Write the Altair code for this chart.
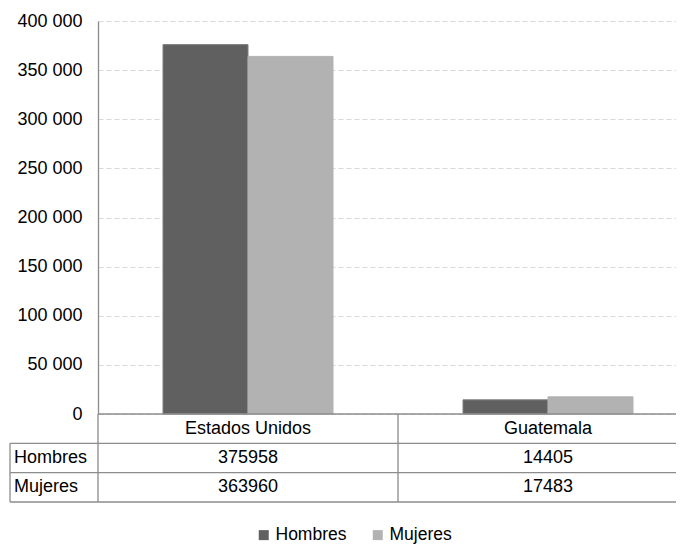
import altair as alt
import pandas as pd

# ---- data ----
countries = ["Estados Unidos", "Guatemala"]
genders = ["Hombres", "Mujeres"]
hombres = [375958, 14405]
mujeres = [363960, 17483]
y_ticks = [0, 50000, 100000, 150000, 200000, 250000, 300000, 350000, 400000]
colors = ["#606060", "#b2b2b2"]
edge_colors = ["#7f7f7f", "#b2b2b2"]
gender_rows = [1.5, 2.5]   # table row centres
header_row = 0.5
row_lines = [1, 2, 3]

# ---- layout ----
W = 578
H = 481
BAR_H = 393
FONT = "Liberation Sans"
LINE = "#8c8c8c"

rows = []
for i, c in enumerate(countries):
    rows.append({"country": c, "gender": genders[0], "value": hombres[i], "row": gender_rows[0]})
    rows.append({"country": c, "gender": genders[1], "value": mujeres[i], "row": gender_rows[1]})
df = pd.DataFrame(rows)
df_head = pd.DataFrame({"country": countries, "row": [header_row] * len(countries)})
df_glab = pd.DataFrame({"gender": genders, "row": gender_rows})
df_hl = pd.DataFrame({"row": row_lines})
df_top = pd.DataFrame({"row": [0]})
df_vl = pd.DataFrame({"country": countries, "y0": [0] * len(countries), "y1": [3] * len(countries)})
df_vl_left = pd.DataFrame({"y0": [1], "y1": [3]})

x_scale = alt.Scale(domain=countries, range=[0, 600], paddingInner=0, paddingOuter=0)
table_y = alt.Scale(domain=[0, 3], range=[BAR_H, H], nice=False, zero=False)

bars = alt.Chart(df).mark_bar(strokeWidth=1).encode(
    x=alt.X("country:N", scale=x_scale, axis=None),
    xOffset=alt.XOffset("gender:N", scale=alt.Scale(domain=genders, paddingInner=0, paddingOuter=0.765)),
    y=alt.Y(
        "value:Q",
        scale=alt.Scale(domain=[0, 400000], range=[BAR_H, 0], nice=False),
        axis=alt.Axis(
            values=y_ticks, title=None, ticks=False, labelPadding=16,
            labelFontSize=18, labelFont=FONT, labelColor="#000",
            domainColor=LINE, domainWidth=1.3,
            grid=True, gridColor="#d9d9d9", gridDash=[5, 3], gridWidth=1,
            labelExpr="replace(format(datum.value, ','), ',', ' ')",
        ),
    ),
    fill=alt.Fill(
        "gender:N",
        scale=alt.Scale(domain=genders, range=colors),
        legend=alt.Legend(
            title=None, orient="none", legendX=157, legendY=505, direction="horizontal",
            symbolType="square", symbolSize=100, symbolStrokeWidth=0,
            labelFontSize=17.5, labelFont=FONT, labelColor="#000",
            columnPadding=22, labelOffset=3,
        ),
    ),
    stroke=alt.Stroke("gender:N", scale=alt.Scale(domain=genders, range=edge_colors), legend=None),
)

cells = alt.Chart(df).mark_text(fontSize=18, font=FONT, color="#000").encode(
    x=alt.X("country:N", scale=x_scale, axis=None),
    y=alt.Y("row:Q", scale=table_y, axis=None),
    text=alt.Text("value:Q", format="d"),
)
heads = alt.Chart(df_head).mark_text(fontSize=18, font=FONT, color="#000").encode(
    x=alt.X("country:N", scale=x_scale, axis=None),
    y=alt.Y("row:Q", scale=table_y, axis=None),
    text="country:N",
)
glabs = alt.Chart(df_glab).mark_text(fontSize=18, font=FONT, color="#000", align="left").encode(
    x=alt.value(-84),
    y=alt.Y("row:Q", scale=table_y, axis=None),
    text="gender:N",
)
hlines = alt.Chart(df_hl).mark_rule(color=LINE, strokeWidth=1.3).encode(
    x=alt.value(-88), x2=alt.value(W + 20),
    y=alt.Y("row:Q", scale=table_y, axis=None),
)
topline = alt.Chart(df_top).mark_rule(color=LINE, strokeWidth=1.3).encode(
    x=alt.value(0), x2=alt.value(W + 20),
    y=alt.Y("row:Q", scale=table_y, axis=None),
)
vlines = alt.Chart(df_vl).mark_rule(color=LINE, strokeWidth=1.3).encode(
    x=alt.X("country:N", scale=x_scale, bandPosition=0, axis=None),
    y=alt.Y("y0:Q", scale=table_y, axis=None),
    y2="y1:Q",
)
vleft = alt.Chart(df_vl_left).mark_rule(color=LINE, strokeWidth=1.3).encode(
    x=alt.value(-88),
    y=alt.Y("y0:Q", scale=table_y, axis=None),
    y2="y1:Q",
)

table = alt.layer(hlines, topline, vlines, vleft, heads, cells, glabs)

chart = alt.layer(bars, table).resolve_scale(y="independent").properties(
    width=W,
    height=H,
    autosize=alt.AutoSizeParams(type="none"),
    padding={"left": 90, "top": 13, "right": 0, "bottom": 44},
).configure_view(stroke=None)

chart.save("out.html", embed_options={"renderer": "svg", "actions": False})
